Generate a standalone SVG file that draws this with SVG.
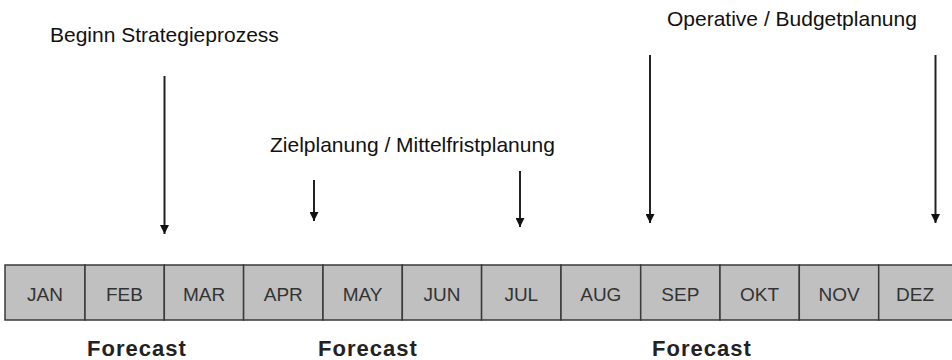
<svg xmlns="http://www.w3.org/2000/svg" width="952" height="360" viewBox="0 0 952 360">
<defs>
<style>
.lbl{font-family:"Liberation Sans",Arial,sans-serif;font-size:21px;fill:#111}
.mon{font-family:"Liberation Sans",Arial,sans-serif;font-size:19px;fill:#333;text-anchor:middle}
.fc{font-family:"Liberation Sans",Arial,sans-serif;font-size:22px;font-weight:bold;fill:#222;letter-spacing:1px}
.cell{fill:#c0c0c0;stroke:#3a3a3a;stroke-width:1.5}
.arr{stroke:#222;stroke-width:2;fill:none;marker-end:url(#ah)}
</style>
<marker id="ah" viewBox="0 0 10 10" refX="10" refY="5" markerUnits="userSpaceOnUse" markerWidth="9" markerHeight="9" orient="auto">
<path d="M0,0 L10,5 L0,10 z" fill="#111"/>
</marker>
</defs>
<g id="labels">
<text class="lbl" x="50" y="42">Beginn Strategieprozess</text>
<text class="lbl" x="270" y="152">Zielplanung / Mittelfristplanung</text>
<text class="lbl" x="667" y="26">Operative / Budgetplanung</text>
</g>
<g id="connectors">
<line class="arr" x1="164.5" y1="76" x2="164.5" y2="234"/>
<line class="arr" x1="314" y1="180" x2="314" y2="221"/>
<line class="arr" x1="520" y1="171" x2="520" y2="227"/>
<line class="arr" x1="650" y1="55" x2="650" y2="223"/>
<line class="arr" x1="935.5" y1="55" x2="935.5" y2="223"/>
</g>
<g id="months">
<g id="jan"><rect class="cell" x="5" y="265" width="80" height="55"/><text class="mon" x="45" y="301">JAN</text></g>
<g id="feb"><rect class="cell" x="85" y="265" width="79.3" height="55"/><text class="mon" x="124.5" y="301">FEB</text></g>
<g id="mar"><rect class="cell" x="164.3" y="265" width="79.3" height="55"/><text class="mon" x="204" y="301">MAR</text></g>
<g id="apr"><rect class="cell" x="243.6" y="265" width="79.4" height="55"/><text class="mon" x="283.3" y="301">APR</text></g>
<g id="may"><rect class="cell" x="323" y="265" width="79.3" height="55"/><text class="mon" x="362.6" y="301">MAY</text></g>
<g id="jun"><rect class="cell" x="402.3" y="265" width="79.3" height="55"/><text class="mon" x="442" y="301">JUN</text></g>
<g id="jul"><rect class="cell" x="481.6" y="265" width="79.4" height="55"/><text class="mon" x="521.3" y="301">JUL</text></g>
<g id="aug"><rect class="cell" x="561" y="265" width="79.7" height="55"/><text class="mon" x="600.8" y="301">AUG</text></g>
<g id="sep"><rect class="cell" x="640.7" y="265" width="79.3" height="55"/><text class="mon" x="680.3" y="301">SEP</text></g>
<g id="okt"><rect class="cell" x="720" y="265" width="79.3" height="55"/><text class="mon" x="759.6" y="301">OKT</text></g>
<g id="nov"><rect class="cell" x="799.3" y="265" width="79.4" height="55"/><text class="mon" x="839" y="301">NOV</text></g>
<g id="dez"><rect class="cell" x="878.7" y="265" width="79.3" height="55"/><text class="mon" x="915" y="301">DEZ</text></g>
</g>
<g id="forecasts">
<text class="fc" x="87" y="356">Forecast</text>
<text class="fc" x="318" y="356">Forecast</text>
<text class="fc" x="652" y="356">Forecast</text>
</g>
</svg>
